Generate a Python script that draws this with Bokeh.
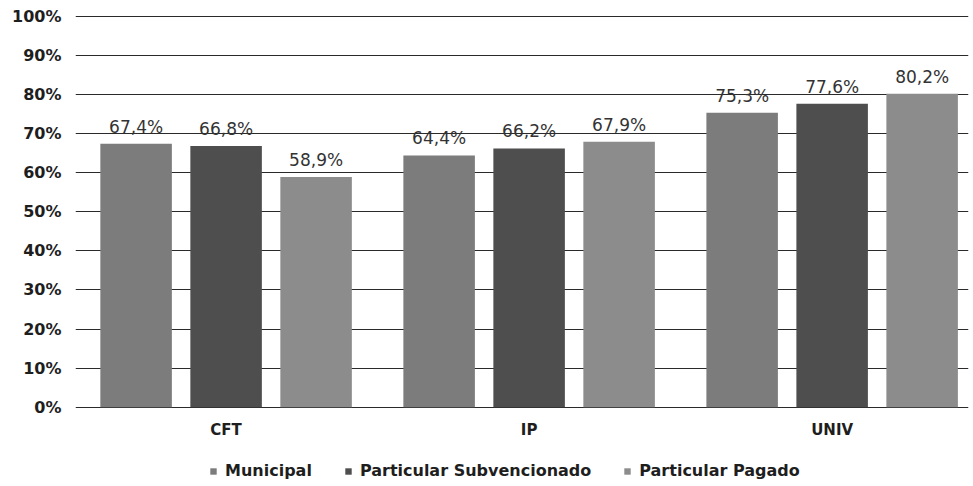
from bokeh.plotting import figure
from bokeh.models import ColumnDataSource, Range1d, Legend, LegendItem, LabelSet, FixedTicker, CustomJSTickFormatter
from bokeh.core.properties import value
from bokeh.transform import dodge
from bokeh.embed import file_html
from bokeh.resources import INLINE

categories = ["CFT", "IP", "UNIV"]
municipal = [67.4, 64.4, 75.3]
subvencionado = [66.8, 66.2, 77.6]
pagado = [58.9, 67.9, 80.2]
series_names = ["Municipal", "Particular Subvencionado", "Particular Pagado"]
y_ticks = [0, 10, 20, 30, 40, 50, 60, 70, 80, 90, 100]

colors = ["#7c7c7c", "#4e4e4e", "#8c8c8c"]

def fmt(v):
    return ("%.1f" % v).replace(".", ",") + "%"

idx = list(range(len(categories)))
src = ColumnDataSource(dict(
    x=idx, cat=categories, base=[0] * len(categories),
    m=municipal, s=subvencionado, pg=pagado,
    ml=[fmt(v) for v in municipal],
    sl=[fmt(v) for v in subvencionado],
    pl=[fmt(v) for v in pagado],
))

p = figure(x_range=Range1d(-0.497, 2.45), y_range=Range1d(-19.75, 100.2),
           frame_width=893, frame_height=469, output_backend="svg", toolbar_location=None,
           x_axis_location=None,
           min_border_left=75, min_border_right=2, min_border_top=15, min_border_bottom=0)
p.outline_line_color = None
p.background_fill_color = "white"

offsets = [-0.297, 0.0, 0.297]
keys = ["m", "s", "pg"]
lkeys = ["ml", "sl", "pl"]
renderers = []
for off, k, lk, c in zip(offsets, keys, lkeys, colors):
    r = p.vbar(x=dodge("x", off), top=k, bottom="base", width=0.236, source=src,
               fill_color=c, line_color=None)
    renderers.append(r)
    lab = LabelSet(x=dodge("x", off), y=k, text=lk, source=src,
                   text_align="center", text_baseline="bottom", y_offset=7,
                   text_font=value("DejaVu Sans"), text_font_size="17px", text_color="#333333")
    p.add_layout(lab)

# category labels under each group
cat_labels = LabelSet(x="x", y="base", text="cat", source=src,
                      text_align="center", text_baseline="middle", y_offset=-23,
                      text_font=value("DejaVu Sans"), text_font_style="bold",
                      text_font_size="15px", text_color="#1e1e1e")
p.add_layout(cat_labels)

p.yaxis.ticker = FixedTicker(ticks=y_ticks)
p.yaxis.formatter = CustomJSTickFormatter(code="return tick + '%';")
p.yaxis.axis_line_color = None
p.yaxis.major_tick_line_color = None
p.yaxis.minor_tick_line_color = None
p.yaxis.major_label_text_font = "DejaVu Sans"
p.yaxis.major_label_text_font_style = "bold"
p.yaxis.major_label_text_font_size = "16px"
p.yaxis.major_label_text_color = "#1e1e1e"
p.yaxis.major_label_standoff = 8

p.xgrid.grid_line_color = None
p.ygrid.grid_line_color = "#2a2a2a"
p.ygrid.grid_line_width = 1

legend = Legend(items=[LegendItem(label=n, renderers=[r]) for n, r in zip(series_names, renderers)],
                orientation="horizontal", location=(134, 4),
                label_text_font="DejaVu Sans", label_text_font_style="bold",
                label_text_font_size="16px", label_text_color="#1e1e1e",
                glyph_width=8, glyph_height=8, spacing=32, border_line_color=None,
                background_fill_alpha=0, margin=0, padding=0, label_standoff=8)
p.add_layout(legend, "center")

open("out.html", "w").write(file_html(p, INLINE))
